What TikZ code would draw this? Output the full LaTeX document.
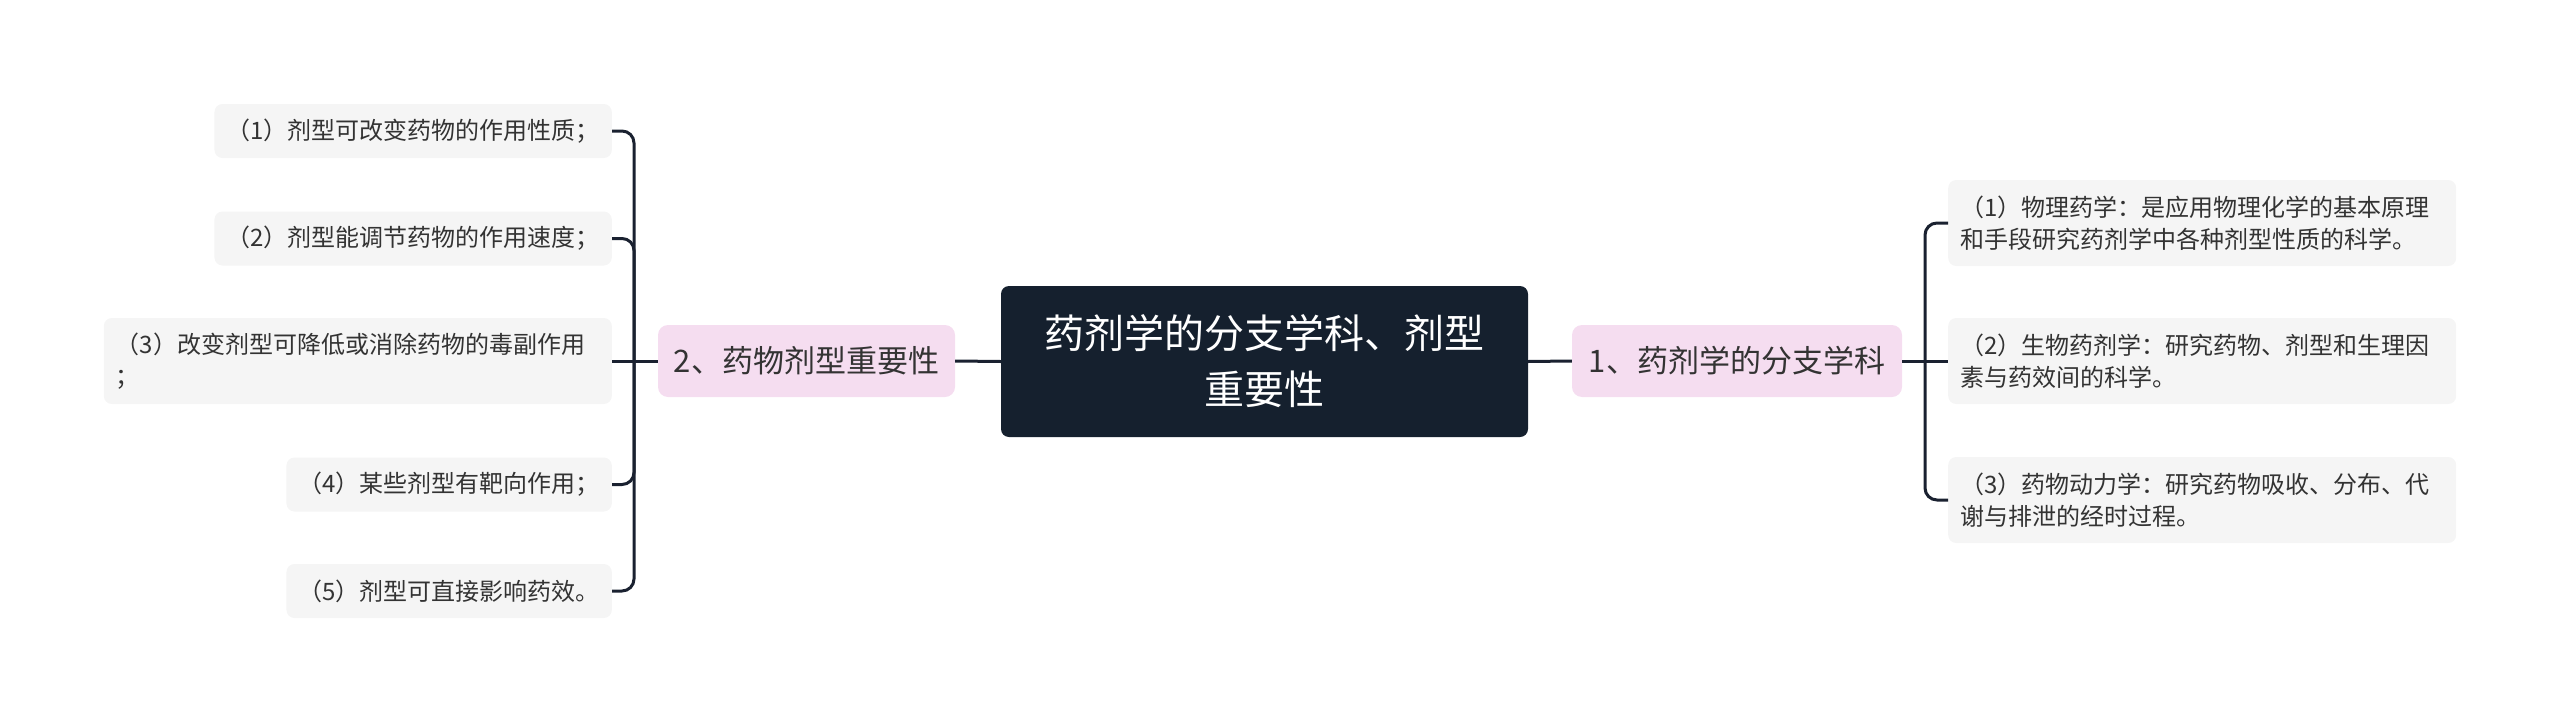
\documentclass[tikz,border=0pt]{standalone}
\usepackage{fontspec}
\setmainfont{Noto Sans CJK SC}
\definecolor{navy}{HTML}{15202E}
\definecolor{pinkfill}{HTML}{F5DDF0}
\definecolor{leaffill}{HTML}{F5F5F5}
\definecolor{linecol}{HTML}{1A2130}
\definecolor{txt}{HTML}{333333}
\tikzset{
  centerbox/.style={fill=navy, text=white, rounded corners=8pt, align=center,
    minimum width=527pt, minimum height=151pt, inner sep=0pt,
    font=\fontsize{40}{56}\selectfont},
  branchbox/.style={fill=pinkfill, text=txt, rounded corners=10pt,
    minimum height=72pt, inner xsep=15pt, inner ysep=0pt,
    font=\fontsize{31}{40}\selectfont},
  leafbox/.style={fill=leaffill, text=txt, rounded corners=8pt,
    minimum height=54pt, inner xsep=12pt, inner ysep=0pt,
    font=\fontsize{24}{32}\selectfont},
  leafwide/.style={leafbox, minimum height=86pt, text width=484pt, align=left},
  conn/.style={draw=linecol, line width=3pt},
  elbow/.style={conn, rounded corners=12pt},
}
\begin{document}
\begin{tikzpicture}[x=1pt,y=-1pt]
\useasboundingbox (0,0) rectangle (2560,723);
% center
\node[centerbox] (c) at (1264.5,361.5) {药剂学的分支学科、剂型\\重要性};
% branches
\node[branchbox, minimum width=330pt] (b1) at (1737,361) {1、药剂学的分支学科};
\node[branchbox, minimum width=297pt] (b2) at (806.5,361) {2、药物剂型重要性};
% right leaves
\node[leafwide, anchor=west] (r1) at (1948,223) {（1）物理药学：是应用物理化学的基本原理\\和手段研究药剂学中各种剂型性质的科学。};
\node[leafwide, anchor=west] (r2) at (1948,361) {（2）生物药剂学：研究药物、剂型和生理因\\素与药效间的科学。};
\node[leafwide, anchor=west] (r3) at (1948,500) {（3）药物动力学：研究药物吸收、分布、代\\谢与排泄的经时过程。};
% left leaves
\node[leafbox, anchor=east] (l1) at (612,131) {（1）剂型可改变药物的作用性质；};
\node[leafbox, anchor=east] (l2) at (612,238.5) {（2）剂型能调节药物的作用速度；};
\node[leafwide, anchor=east] (l3) at (612,361) {（3）改变剂型可降低或消除药物的毒副作用\\；};
\node[leafbox, anchor=east] (l4) at (612,484.5) {（4）某些剂型有靶向作用；};
\node[leafbox, anchor=east] (l5) at (612,591) {（5）剂型可直接影响药效。};
% junctions
\coordinate (jr) at (1925,361);
\coordinate (jl) at (634,361);
% connectors
\draw[conn] (c.east) -- (b1.west);
\draw[conn] (c.west) -- (b2.east);
\draw[conn] (b1.east) -- (r2.west);
\draw[elbow] (jr) |- (r1.west);
\draw[elbow] (jr) |- (r3.west);
\draw[conn] (b2.west) -- (l3.east);
\draw[elbow] (jl) |- (l1.east);
\draw[elbow] (jl) |- (l2.east);
\draw[elbow] (jl) |- (l4.east);
\draw[elbow] (jl) |- (l5.east);
\end{tikzpicture}
\end{document}
